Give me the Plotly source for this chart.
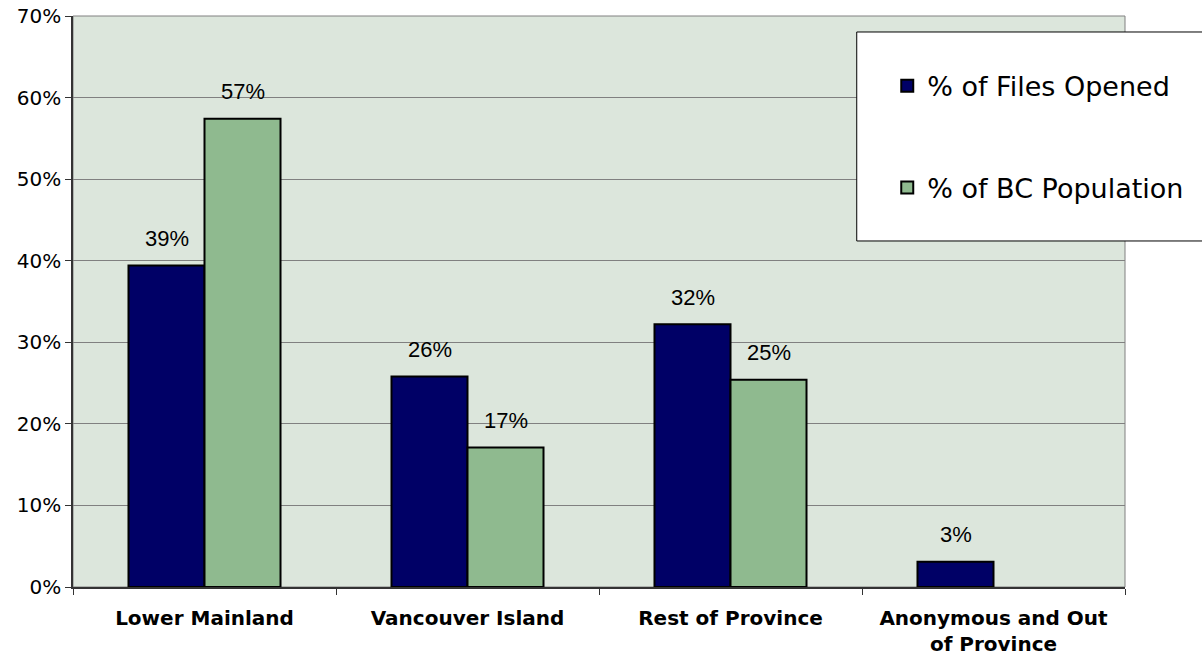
import plotly.graph_objects as go

# Share of files opened vs share of BC population, by region
regions = ["Lower Mainland", "Vancouver Island", "Rest of Province",
           "Anonymous and Out<br>of Province"]
files_opened = [39.4, 25.8, 32.2, 3.1]
bc_population = [57.4, 17.1, 25.4, None]
series_names = ["% of Files Opened", "% of BC Population"]
series_colors = ["#000066", "#8FBA8F"]

BARGAP = 0.422
slot = (1 - BARGAP) / 2

fig = go.Figure()
series = [files_opened, bc_population]
for k, (name, vals, col) in enumerate(zip(series_names, series, series_colors)):
    fig.add_trace(go.Bar(
        x=regions, y=vals, name=name,
        marker=dict(color=col, line=dict(color="black", width=2)),
        legend="legend" if k == 0 else "legend2",
    ))

# value labels above each bar
annotations = []
for k, vals in enumerate(series):
    for i, v in enumerate(vals):
        if v is None:
            continue
        annotations.append(dict(
            x=i + (k - 0.5) * slot, y=v, xref="x", yref="y",
            text=f"{v:.0f}%", showarrow=False, yshift=27, yanchor="middle",
            font=dict(family="Liberation Sans, Arial, sans-serif", size=22, color="black"),
        ))

shapes = [
    # plot frame
    dict(type="rect", xref="paper", yref="paper", x0=0, x1=1, y0=0, y1=1,
         line=dict(color="#808080", width=1), layer="below"),
    # legend box
    dict(type="rect", xref="paper", yref="paper", x0=0.745, x1=1.2, y0=0.606, y1=0.972,
         line=dict(color="black", width=1), fillcolor="white", layer="above"),
]

legend_font = dict(family="DejaVu Sans, Verdana, sans-serif", size=27, color="black")
fig.update_layout(
    width=1202, height=657,
    margin=dict(l=73, r=77, t=16, b=70, autoexpand=False),
    paper_bgcolor="white",
    plot_bgcolor="#DCE6DC",
    barmode="group", bargap=BARGAP, bargroupgap=0,
    showlegend=True,
    legend=dict(x=0.774, y=0.877, xanchor="left", yanchor="middle",
                bgcolor="rgba(0,0,0,0)", borderwidth=0, font=legend_font),
    legend2=dict(x=0.774, y=0.699, xanchor="left", yanchor="middle",
                 bgcolor="rgba(0,0,0,0)", borderwidth=0, font=legend_font),
    annotations=annotations,
    shapes=shapes,
    xaxis=dict(
        automargin=False,
        showline=True, linecolor="#333333", linewidth=1.5,
        ticks="outside", tickson="boundaries", ticklen=6, tickcolor="#333333",
        ticklabelstandoff=12,
        tickfont=dict(family="DejaVu Sans, Verdana, sans-serif", size=20,
                      color="black", weight="bold"),
        showgrid=False,
    ),
    yaxis=dict(
        automargin=False,
        range=[0, 70], dtick=10, ticksuffix="%",
        showline=True, linecolor="#333333", linewidth=1.5,
        ticks="outside", ticklen=6, tickcolor="#333333",
        tickfont=dict(family="DejaVu Sans, Verdana, sans-serif", size=20, color="black"),
        showgrid=True, gridcolor="#808080", gridwidth=1,
        zeroline=False,
    ),
)

fig.write_html("out.html")
